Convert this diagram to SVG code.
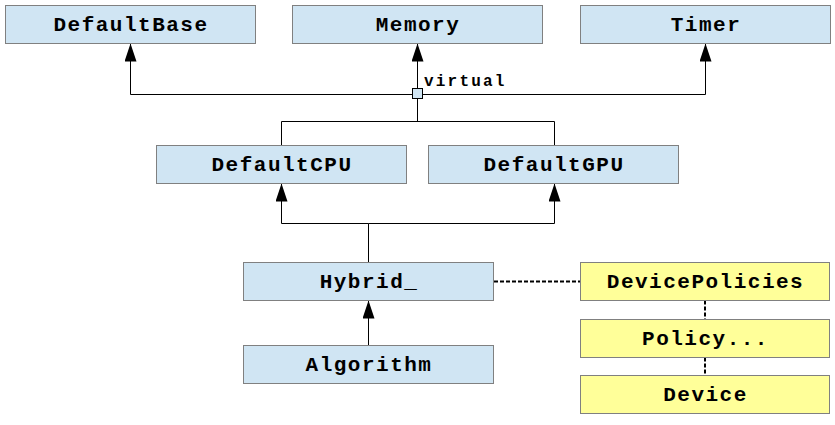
<svg xmlns="http://www.w3.org/2000/svg" width="835" height="425" viewBox="0 0 835 425">
<defs>
<style>
.b{fill:#d0e5f3;stroke:#808080;stroke-width:1}
.y{fill:#ffff99;stroke:#808080;stroke-width:1}
.t{font-family:"Liberation Mono","Courier New",monospace;font-weight:bold;font-size:21px;letter-spacing:1.5px;fill:#000;text-anchor:middle}
.l{fill:none;stroke:#000;stroke-width:1}
.d{fill:none;stroke:#000;stroke-width:2;stroke-dasharray:4,2}
.v{font-family:"Liberation Mono","Courier New",monospace;font-weight:bold;font-size:16px;letter-spacing:2.2px;fill:#000}
</style>
<marker id="ah" markerWidth="18" markerHeight="12" refX="18" refY="6" orient="auto" markerUnits="userSpaceOnUse" viewBox="0 0 18 12">
<path d="M0,0 L18,6 L0,12 Z" fill="#000"/>
</marker>
</defs>
<rect width="835" height="425" fill="#fff"/>
<g id="connectors">
<path class="l" d="M130.5,94.5 V43.5" marker-end="url(#ah)"/>
<path class="l" d="M130.5,94.5 H705.5 V43.5" marker-end="url(#ah)"/>
<path class="l" d="M417.5,88 V43.5" marker-end="url(#ah)"/>
<path class="l" d="M417.5,98 V121.5 M281.5,145 V121.5 H554.5 V145"/>
<rect x="412.5" y="88.5" width="10" height="10" fill="#d0e5f3" stroke="#000"/>
<text class="v" x="424" y="86">virtual</text>
<path class="l" d="M368.5,262.5 V223.5 H281.5 V183.5" marker-end="url(#ah)"/>
<path class="l" d="M368.5,223.5 H554.5 V183.5" marker-end="url(#ah)"/>
<path class="l" d="M368.5,345.5 V300.5" marker-end="url(#ah)"/>
<path class="d" d="M494,281.5 H580"/>
<path class="d" d="M705,300.5 V319"/>
<path class="d" d="M705,357.5 V375.5"/>
</g>
<g id="DefaultBase"><rect class="b" x="5.5" y="5.5" width="250" height="38"/><text class="t" x="131" y="31">DefaultBase</text></g>
<g id="Memory"><rect class="b" x="292.5" y="5.5" width="250" height="38"/><text class="t" x="418" y="31">Memory</text></g>
<g id="Timer"><rect class="b" x="580.5" y="5.5" width="250" height="38"/><text class="t" x="706" y="31">Timer</text></g>
<g id="DefaultCPU"><rect class="b" x="156.5" y="145.5" width="250" height="38"/><text class="t" x="282" y="171">DefaultCPU</text></g>
<g id="DefaultGPU"><rect class="b" x="428.5" y="145.5" width="250" height="38"/><text class="t" x="554" y="171">DefaultGPU</text></g>
<g id="Hybrid_"><rect class="b" x="243.5" y="262.5" width="250" height="38"/><text class="t" x="369" y="288">Hybrid_</text></g>
<g id="Algorithm"><rect class="b" x="243.5" y="345.5" width="250" height="38"/><text class="t" x="369" y="371">Algorithm</text></g>
<g id="DevicePolicies"><rect class="y" x="580.5" y="262.5" width="249" height="38"/><text class="t" x="705.5" y="288">DevicePolicies</text></g>
<g id="Policy"><rect class="y" x="580.5" y="319.5" width="249" height="38"/><text class="t" x="705.5" y="345">Policy...</text></g>
<g id="Device"><rect class="y" x="580.5" y="375.5" width="249" height="38"/><text class="t" x="705.5" y="401">Device</text></g>
</svg>
